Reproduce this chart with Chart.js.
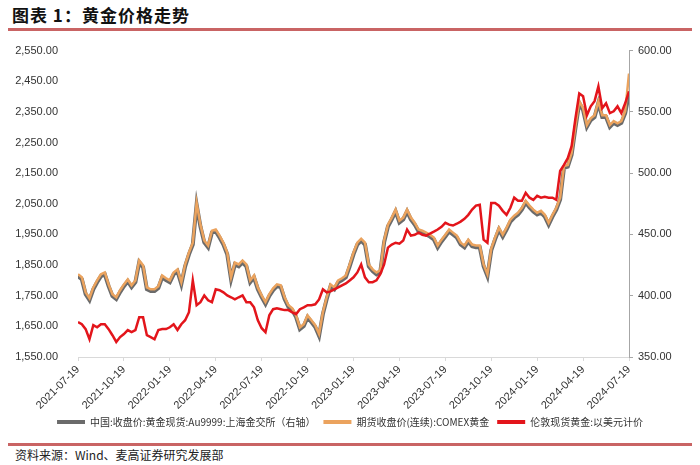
<!DOCTYPE html>
<html>
<head>
<meta charset="utf-8">
<script src="https://cdn.jsdelivr.net/npm/chart.js@4.4.1/dist/chart.umd.min.js"></script>
<style>
  body { margin: 0; background: #fff; }
  #wrap { position: relative; width: 700px; height: 465px; overflow: hidden; font-family: "Noto Sans CJK SC", sans-serif; }
  #title { position: absolute; left: 12px; top: 2px; font-size: 17px; font-weight: bold; color: #111; letter-spacing: 1px; }
  .rule { position: absolute; left: 8px; width: 684px; height: 3px; background: #c96464; }
  #source { position: absolute; left: 15px; top: 446px; font-size: 12px; color: #222; }
  #box { position: absolute; left: 0; top: 32px; width: 700px; height: 405px; }
</style>
</head>
<body>
<div id="wrap">
  <div id="title">图表 1：黄金价格走势</div>
  <div class="rule" style="top:28px"></div>
  <div id="box"><canvas id="goldChart" width="700" height="405"></canvas></div>
  <div class="rule" style="top:443px"></div>
  <div id="source">资料来源：Wind、麦高证券研究发展部</div>
</div>
<script>
// 季度刻度（每个季度 12 个数据点）
const quarterLabels = ['2021-07-19', '2021-10-19', '2022-01-19', '2022-04-19', '2022-07-19', '2022-10-19',
    '2023-01-19', '2023-04-19', '2023-07-19', '2023-10-19', '2024-01-19', '2024-04-19', '2024-07-19'];
const pointsPerQuarter = 12;

const seriesNames = ['中国:收盘价:黄金现货:Au9999:上海金交所（右轴）', '期货收盘价(连续):COMEX黄金', '伦敦现货黄金:以美元计价'];

// 上海金交所 Au9999（右轴，元/克）
const au9999 = [
    416.0, 413.5, 401.3, 396.5, 405.3, 411.0, 416.0, 417.5, 407.8, 399.8, 397.3, 403.0,
    407.8, 411.8, 407.0, 411.0, 427.3, 423.3, 405.3, 403.8, 403.8, 406.3, 415.0, 412.8,
    411.0, 417.5, 420.0, 409.5, 424.0, 433.8, 441.8, 474.3, 456.5, 443.5, 439.5, 451.5,
    452.5, 447.5, 441.8, 433.8, 413.5, 425.5, 424.0, 427.3, 424.0, 411.0, 415.0, 405.3,
    398.8, 393.3, 399.8, 404.5, 407.8, 407.0, 397.3, 390.8, 388.3, 382.5, 372.8, 375.3,
    382.5, 378.5, 374.5, 367.3, 385.0, 397.3, 407.8, 405.3, 411.0, 412.8, 415.0, 424.0,
    433.8, 441.8, 445.0, 441.8, 424.0, 420.0, 417.5, 419.3, 443.5, 456.5, 462.3, 468.8,
    459.8, 462.3, 468.8, 462.3, 458.0, 452.5, 451.5, 450.0, 448.3, 446.0, 439.5, 444.3,
    448.3, 452.5, 450.0, 447.5, 441.8, 439.5, 444.3, 440.3, 439.5, 439.5, 424.0, 416.0,
    437.0, 446.0, 454.0, 448.3, 454.0, 460.5, 463.8, 466.3, 470.3, 476.0, 472.0, 468.8,
    466.3, 467.8, 464.5, 458.0, 464.5, 470.3, 478.5, 504.3, 505.3, 515.0, 536.8, 557.3,
    551.5, 537.8, 543.3, 545.8, 557.3, 545.8, 545.8, 537.8, 541.0, 539.3, 541.0, 549.0,
    565.0
];

// COMEX 黄金期货（左轴，美元/盎司）
const comex = [
    1820, 1810, 1761, 1742, 1777, 1800, 1820, 1826, 1787, 1755, 1745, 1768,
    1787, 1803, 1784, 1800, 1865, 1849, 1777, 1771, 1771, 1781, 1816, 1807,
    1800, 1826, 1836, 1794, 1852, 1891, 1923, 2053, 1982, 1930, 1914, 1962,
    1966, 1946, 1923, 1891, 1810, 1858, 1852, 1865, 1852, 1800, 1816, 1777,
    1751, 1729, 1755, 1774, 1787, 1784, 1745, 1719, 1709, 1686, 1647, 1657,
    1686, 1670, 1654, 1625, 1696, 1745, 1787, 1777, 1800, 1807, 1816, 1852,
    1891, 1923, 1936, 1923, 1852, 1836, 1826, 1833, 1930, 1982, 2005, 2031,
    1995, 2005, 2031, 2005, 1988, 1966, 1962, 1956, 1949, 1940, 1914, 1933,
    1949, 1966, 1956, 1946, 1923, 1914, 1933, 1917, 1914, 1914, 1852, 1820,
    1904, 1940, 1972, 1949, 1972, 1998, 2011, 2021, 2037, 2060, 2044, 2031,
    2021, 2027, 2014, 1988, 2014, 2037, 2070, 2173, 2177, 2216, 2303, 2385,
    2362, 2307, 2329, 2339, 2385, 2339, 2339, 2307, 2320, 2313, 2320, 2352,
    2475
];

// 伦敦现货黄金（左轴）
const london = [
    1664, 1657, 1641, 1608, 1654, 1647, 1657, 1657, 1641, 1621, 1599, 1615,
    1625, 1638, 1631, 1638, 1680, 1680, 1621, 1615, 1608, 1638, 1641, 1641,
    1647, 1657, 1638, 1657, 1670, 1696, 1800, 1719, 1729, 1751, 1735, 1729,
    1771, 1768, 1761, 1751, 1745, 1738, 1745, 1751, 1729, 1729, 1712, 1670,
    1644, 1631, 1686, 1706, 1709, 1706, 1703, 1703, 1696, 1690, 1706, 1712,
    1719, 1719, 1722, 1738, 1771, 1761, 1764, 1771, 1777, 1784, 1790, 1800,
    1810, 1826, 1852, 1810, 1794, 1794, 1800, 1820, 1852, 1907, 1917, 1923,
    1920, 1930, 1966, 1946, 1949, 1956, 1949, 1946, 1953, 1959, 1966, 1975,
    1988, 1982, 1979, 1985, 1992, 2001, 2014, 2031, 2044, 2047, 1933, 1923,
    2053, 2053, 2044, 2027, 2014, 2037, 2070, 2060, 2060, 2086, 2070, 2063,
    2076, 2070, 2073, 2070, 2070, 2063, 2157, 2177, 2199, 2238, 2329, 2410,
    2401, 2339, 2368, 2385, 2433, 2362, 2378, 2346, 2352, 2368, 2346, 2378,
    2417
];

const leftTicks = { min: 1550, max: 2550, step: 100 };
const rightTicks = { min: 350, max: 600, step: 50 };

const tickFont = { family: '"Liberation Sans", sans-serif', size: 11 };
const fmt2 = (v) => v.toLocaleString('en-US', { minimumFractionDigits: 2, maximumFractionDigits: 2 });

document.addEventListener('DOMContentLoaded', function () {
    const labels = comex.map((_, i) => i);

    new Chart(document.getElementById('goldChart'), {
        type: 'line',
        data: {
            labels: labels,
            datasets: [
                {
                    label: seriesNames[0],
                    data: au9999,
                    yAxisID: 'yRight',
                    borderColor: '#6b6b6b',
                    backgroundColor: '#6b6b6b',
                    borderWidth: 4,
                    order: 3
                },
                {
                    label: seriesNames[1],
                    data: comex,
                    yAxisID: 'yLeft',
                    borderColor: '#eba35e',
                    backgroundColor: '#eba35e',
                    borderWidth: 2.5,
                    order: 2
                },
                {
                    label: seriesNames[2],
                    data: london,
                    yAxisID: 'yLeft',
                    borderColor: '#e3151b',
                    backgroundColor: '#e3151b',
                    borderWidth: 2.5,
                    order: 1
                }
            ]
        },
        options: {
            responsive: false,
            animation: false,
            elements: { point: { radius: 0 }, line: { tension: 0 } },
            layout: { padding: { top: 6, left: 0, right: 0, bottom: 0 } },
            scales: {
                x: {
                    type: 'linear',
                    min: 0,
                    max: quarterLabels.length * pointsPerQuarter - pointsPerQuarter,
                    border: { display: true, color: '#d9d9d9' },
                    grid: { drawOnChartArea: false, tickLength: 4, color: '#d9d9d9' },
                    ticks: {
                        stepSize: pointsPerQuarter,
                        autoSkip: false,
                        maxRotation: 45,
                        minRotation: 45,
                        color: '#333',
                        font: tickFont,
                        padding: 2,
                        callback: (v) => quarterLabels[v / pointsPerQuarter]
                    },
                    afterFit: (s) => { s.height = 52; }
                },
                yLeft: {
                    position: 'left',
                    min: leftTicks.min,
                    max: leftTicks.max,
                    border: { display: false },
                    grid: { display: false },
                    ticks: {
                        stepSize: leftTicks.step,
                        color: '#333',
                        font: tickFont,
                        padding: 12,
                        callback: (v) => fmt2(v)
                    },
                    afterFit: (s) => { s.width = 78; }
                },
                yRight: {
                    position: 'right',
                    min: rightTicks.min,
                    max: rightTicks.max,
                    border: { display: true, color: '#a6a6a6' },
                    grid: { drawOnChartArea: false, tickLength: 4, color: '#a6a6a6' },
                    ticks: {
                        stepSize: rightTicks.step,
                        color: '#333',
                        font: tickFont,
                        padding: 5,
                        callback: (v) => fmt2(v)
                    },
                    afterFit: (s) => { s.width = 71; }
                }
            },
            plugins: {
                title: { display: false },
                tooltip: { enabled: false },
                legend: {
                    display: true,
                    position: 'bottom',
                    labels: {
                        boxWidth: 28,
                        boxHeight: 4,
                        padding: 8,
                        color: '#333',
                        font: { family: '"Noto Sans CJK SC", sans-serif', size: 10 },
                        sort: (a, b) => a.datasetIndex - b.datasetIndex,
                        generateLabels: (chart) => Chart.defaults.plugins.legend.labels.generateLabels(chart)
                            .map((l) => ({ ...l, lineWidth: 0, fillStyle: l.strokeStyle }))
                    }
                }
            }
        }
    });
});
</script>
</body>
</html>
